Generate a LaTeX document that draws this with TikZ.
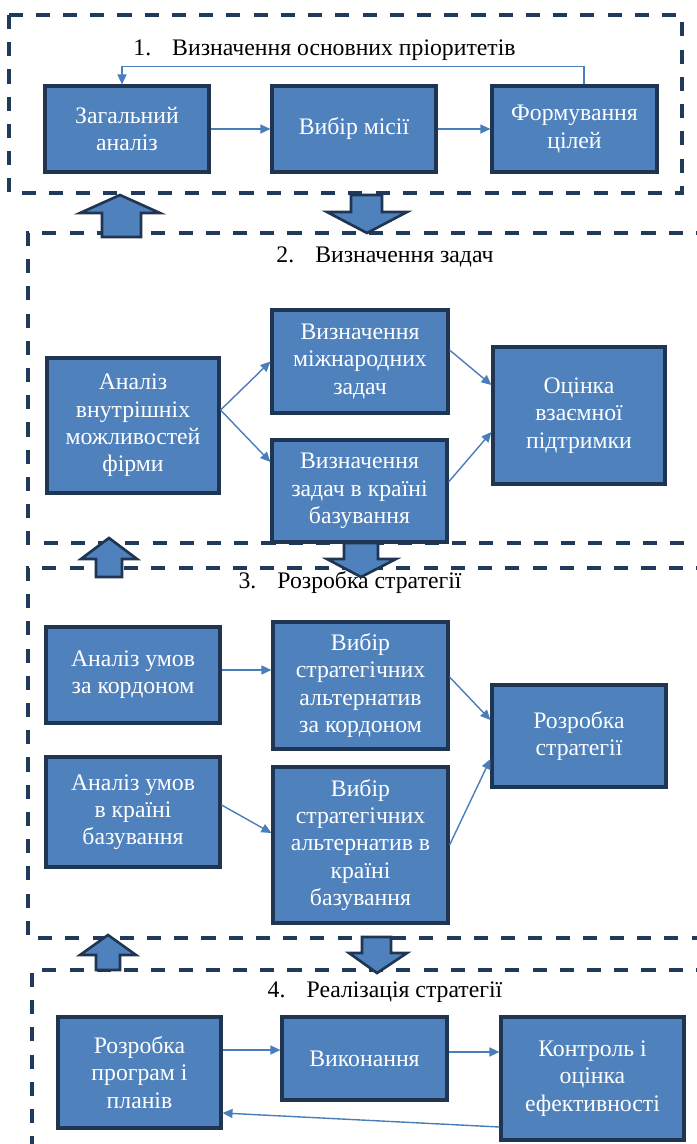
\documentclass[tikz,border=0pt]{standalone}
\usepackage{fontspec}
\setmainfont{Liberation Serif}
\usepackage{tikz}
\usetikzlibrary{positioning,arrows.meta,calc}
\definecolor{boxblue}{HTML}{4F81BD}
\definecolor{boxedge}{HTML}{1F3552}
\definecolor{framecol}{HTML}{1F3A5A}
\definecolor{linkcol}{HTML}{4A7EBB}

\begin{document}
\begin{tikzpicture}[
  x=0.02cm, y=-0.02cm,
  font=\fontsize{13.5}{15.5}\selectfont,
  box/.style={draw=boxedge, line width=1.8pt, fill=boxblue, text=white, align=center, inner sep=2pt},
  title/.style={text=black, inner sep=1pt},
  frame/.style={draw=framecol, line width=2.3pt, dash pattern=on 8pt off 7.5pt},
  arr/.style={-{Triangle[length=2mm, width=1.8mm]}, draw=linkcol, line width=0.8pt},
  blockarr/.style={draw=boxedge, line width=1.5pt, fill=boxblue, line join=miter},
  ]
  \useasboundingbox (0,0) rectangle (697,1144);
  \clip (0,0) rectangle (697,1144);

  % dashed frames of the four stages
  \draw[frame] (9,15) rectangle (682,193);
  \draw[frame] (710,233) -- (28,233) -- (28,543) -- (710,543);
  \draw[frame] (710,568) -- (28,568) -- (28,938) -- (710,938);
  \draw[frame] (710,970) -- (32,970) -- (32,1170);

  % stage 1
  \node[title] (t1) at (324.5,50) {1.\hspace{12pt}Визначення основних пріоритетів};
  \node[box, minimum width=3.28cm, minimum height=1.72cm] (zag) at (127,129) {Загальний\\аналіз};
  \node[box, minimum width=3.28cm, minimum height=1.72cm] (vyb) at (354,129) {Вибір місії};
  \node[box, minimum width=3.30cm, minimum height=1.72cm] (form) at (574.5,129) {Формування\\цілей};
  \draw[arr] (zag.east) -- (vyb.west);
  \draw[arr] (vyb.east) -- (form.west);
  \draw[arr] ([xshift=0.19cm]form.north) -- ++(0,0.36cm) -| ([xshift=-0.1cm]zag.north);

  % stage 2
  \node[title] (t2) at (385,257) {2.\hspace{12pt}Визначення задач};
  \node[box, minimum width=3.44cm, minimum height=2.70cm] (anal) at (133,425.5) {Аналіз\\внутрішніх\\можливостей\\фірми};
  \node[box, minimum width=3.52cm, minimum height=2.06cm] (mizh) at (360,361.5) {Визначення\\міжнародних\\задач};
  \node[box, minimum width=3.50cm, minimum height=2.04cm] (krain) at (359.5,491) {Визначення\\задач в країні\\базування};
  \node[box, minimum width=3.44cm, minimum height=2.74cm] (ocin) at (579,415.5) {Оцінка\\взаємної\\підтримки};
  \draw[arr] ([yshift=0.31cm]anal.east) -- (mizh.west);
  \draw[arr] ([yshift=0.31cm]anal.east) -- ([yshift=0.58cm]krain.west);
  \draw[arr] ([yshift=0.23cm]mizh.east) -- ([yshift=0.61cm]ocin.west);
  \draw[arr] ([yshift=0.18cm]krain.east) -- ([yshift=-0.33cm]ocin.west);

  % stage 3
  \node[title] (t3) at (350,583) {3.\hspace{12pt}Розробка стратегії};
  \node[box, minimum width=3.48cm, minimum height=1.92cm] (umkord) at (133,675) {Аналіз умов\\за кордоном};
  \node[box, minimum width=3.48cm, minimum height=2.20cm] (umkrain) at (133,812) {Аналіз умов\\в країні\\базування};
  \node[box, minimum width=3.50cm, minimum height=2.54cm] (altkord) at (360.5,685.5) {Вибір\\стратегічних\\альтернатив\\за кордоном};
  \node[box, minimum width=3.50cm, minimum height=3.12cm] (altkrain) at (360.5,845) {Вибір\\стратегічних\\альтернатив в\\країні\\базування};
  \node[box, minimum width=3.48cm, minimum height=2.04cm] (rozstr) at (579,736) {Розробка\\стратегії};
  \draw[arr] ([yshift=0.1cm]umkord.east) -- ([yshift=0.1cm]umkord.east -| altkord.west);
  \draw[arr] ([yshift=0.14cm]umkrain.east) -- ([yshift=0.24cm]altkrain.west);
  \draw[arr] ([yshift=0.17cm]altkord.east) -- ([yshift=0.32cm]rozstr.west);
  \draw[arr] (altkrain.east) -- ([yshift=-0.46cm]rozstr.west);

  % stage 4
  \node[title] (t4) at (385,992) {4.\hspace{12pt}Реалізація стратегії};
  \node[box, minimum width=3.26cm, minimum height=2.22cm] (prog) at (139.5,1072.5) {Розробка\\програм і\\планів};
  \node[box, minimum width=3.30cm, minimum height=1.66cm] (vykon) at (364.5,1058.5) {Виконання};
  \node[box, minimum width=3.66cm, minimum height=2.46cm] (kontr) at (592.5,1078.5) {Контроль і\\оцінка\\ефективності};
  \draw[arr] ([yshift=0.45cm]prog.east) -- ([yshift=0.45cm]prog.east -| vykon.west);
  \draw[arr] ([yshift=0.13cm]vykon.east) -- ([yshift=0.13cm]vykon.east -| kontr.west);
  \draw[arr] ([yshift=-0.97cm]kontr.west) -- ([yshift=-0.81cm]prog.east);

  % block arrows between stages
  \draw[blockarr] (120,195) -- (160,213) -- (141,213) -- (141,237) -- (102,237) -- (102,213) -- (80,213) -- cycle;
  \draw[blockarr] (351,195) -- (382,195) -- (382,212) -- (407,212) -- (367,233) -- (327,212) -- (351,212) -- cycle;
  \draw[blockarr] (109,538) -- (137,559) -- (122,559) -- (122,577) -- (96,577) -- (96,559) -- (81,559) -- cycle;
  \draw[blockarr] (344,543) -- (378,543) -- (378,559) -- (396,559) -- (361,577) -- (327,559) -- (344,559) -- cycle;
  \draw[blockarr] (108,935) -- (136,955) -- (120,955) -- (120,970) -- (96,970) -- (96,955) -- (80,955) -- cycle;
  \draw[blockarr] (362,937) -- (391,937) -- (391,953) -- (407,953) -- (377,973) -- (349,953) -- (362,953) -- cycle;
\end{tikzpicture}
\end{document}
